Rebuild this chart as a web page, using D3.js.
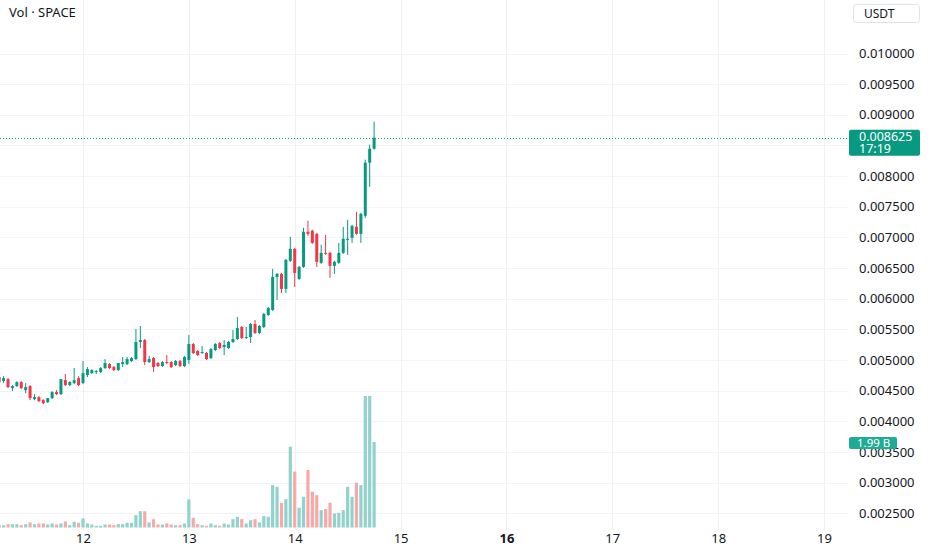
<!DOCTYPE html>
<html lang="en">
<head>
  <meta charset="UTF-8">
  <title>SPACE / USDT</title>
  <script src="https://d3js.org/d3.v7.min.js"></script>
  <style>
    body {margin: 0; padding: 0; background: #fff; font-family: "Noto Sans", sans-serif;}
    #chart svg {display: block;}
    .axis text {font-size: 13px; fill: #131722;}
  </style>
</head>
<body>
  <div id="chart"></div>
  <script>
    // hourly candles, first one at 11th 05:00
    const startHour = 5;
    const open = [
      0.004722, 0.004656, 0.004689, 0.004542, 0.004575, 0.004640, 0.004509, 0.004575, 0.004362, 0.004395,
      0.004346, 0.004313, 0.004379, 0.004477, 0.004444, 0.004673, 0.004591, 0.004624, 0.004705, 0.004624,
      0.004755, 0.004787, 0.004804, 0.004804, 0.004869, 0.004934, 0.004885, 0.004836, 0.004934, 0.004934,
      0.004983, 0.005016, 0.005294, 0.005326, 0.004967, 0.005032, 0.004951, 0.004902, 0.004967, 0.004967,
      0.004918, 0.004983, 0.004902, 0.005000, 0.005261, 0.005147, 0.005114, 0.005114, 0.005032, 0.005163,
      0.005277, 0.005212, 0.005196, 0.005294, 0.005343, 0.005539, 0.005359, 0.005375, 0.005588, 0.005441,
      0.005539, 0.005735, 0.005817, 0.006356, 0.006405, 0.006160, 0.006617, 0.006813, 0.006323, 0.006519,
      0.007091, 0.007108, 0.007058, 0.006585, 0.006748, 0.006748, 0.006536, 0.006585, 0.006748, 0.006960,
      0.006993, 0.007173, 0.007058, 0.007353, 0.008219, 0.008447
    ];
    const high = [
      0.004755, 0.004738, 0.004705, 0.004591, 0.004656, 0.004656, 0.004624, 0.004591, 0.004444, 0.004411,
      0.004362, 0.004379, 0.004493, 0.004509, 0.004689, 0.004771, 0.004656, 0.004869, 0.004738, 0.004983,
      0.004885, 0.004853, 0.004836, 0.004885, 0.005016, 0.004951, 0.004902, 0.004951, 0.005049, 0.005049,
      0.005049, 0.005506, 0.005555, 0.005343, 0.005065, 0.005049, 0.004967, 0.004983, 0.005081, 0.004983,
      0.005000, 0.005000, 0.005065, 0.005408, 0.005277, 0.005163, 0.005228, 0.005130, 0.005196, 0.005277,
      0.005294, 0.005326, 0.005310, 0.005490, 0.005702, 0.005555, 0.005539, 0.005604, 0.005653, 0.005571,
      0.005768, 0.005866, 0.006487, 0.006421, 0.006421, 0.006650, 0.007009, 0.006830, 0.006536, 0.007157,
      0.007271, 0.007124, 0.007075, 0.006879, 0.007042, 0.006764, 0.006617, 0.006911, 0.007173, 0.007287,
      0.007206, 0.007418, 0.007402, 0.008268, 0.008513, 0.008888
    ];
    const low = [
      0.004607, 0.004624, 0.004542, 0.004493, 0.004558, 0.004526, 0.004460, 0.004346, 0.004346, 0.004313,
      0.004281, 0.004297, 0.004362, 0.004428, 0.004428, 0.004575, 0.004575, 0.004607, 0.004575, 0.004607,
      0.004722, 0.004771, 0.004771, 0.004787, 0.004853, 0.004853, 0.004820, 0.004820, 0.004885, 0.004918,
      0.004967, 0.005000, 0.005196, 0.004918, 0.004951, 0.004804, 0.004885, 0.004885, 0.004934, 0.004869,
      0.004902, 0.004885, 0.004885, 0.004934, 0.005098, 0.005065, 0.005098, 0.005000, 0.005016, 0.005147,
      0.005179, 0.005081, 0.005179, 0.005277, 0.005326, 0.005343, 0.005343, 0.005277, 0.005424, 0.005424,
      0.005522, 0.005719, 0.005800, 0.005980, 0.006094, 0.006094, 0.006601, 0.006192, 0.006307, 0.006503,
      0.007026, 0.006895, 0.006519, 0.006568, 0.006715, 0.006340, 0.006405, 0.006568, 0.006732, 0.006715,
      0.006911, 0.007042, 0.006911, 0.007320, 0.007826, 0.008431
    ];
    const close = [
      0.004640, 0.004705, 0.004558, 0.004575, 0.004640, 0.004542, 0.004558, 0.004379, 0.004395, 0.004330,
      0.004297, 0.004379, 0.004477, 0.004444, 0.004689, 0.004591, 0.004640, 0.004673, 0.004591, 0.004787,
      0.004853, 0.004836, 0.004820, 0.004869, 0.004951, 0.004869, 0.004836, 0.004951, 0.004967, 0.005016,
      0.005032, 0.005294, 0.005326, 0.004967, 0.005016, 0.004885, 0.004902, 0.004967, 0.004951, 0.004885,
      0.004983, 0.004902, 0.005049, 0.005261, 0.005114, 0.005081, 0.005130, 0.005016, 0.005179, 0.005261,
      0.005196, 0.005245, 0.005294, 0.005343, 0.005522, 0.005359, 0.005375, 0.005588, 0.005441, 0.005555,
      0.005751, 0.005849, 0.006356, 0.006405, 0.006160, 0.006634, 0.006813, 0.006421, 0.006519, 0.007091,
      0.007058, 0.006911, 0.006601, 0.006748, 0.006732, 0.006536, 0.006601, 0.006748, 0.006977, 0.006977,
      0.007189, 0.007058, 0.007385, 0.008219, 0.008447, 0.008625
    ];
    // volume in billions
    const volume = [
      0.054, 0.054, 0.077, 0.077, 0.077, 0.054, 0.077, 0.117, 0.077, 0.093,
      0.093, 0.070, 0.093, 0.070, 0.093, 0.140, 0.054, 0.133, 0.110, 0.210,
      0.093, 0.070, 0.040, 0.040, 0.070, 0.070, 0.054, 0.077, 0.077, 0.110,
      0.110, 0.287, 0.380, 0.380, 0.117, 0.193, 0.070, 0.070, 0.093, 0.070,
      0.054, 0.054, 0.093, 0.653, 0.226, 0.077, 0.054, 0.040, 0.093, 0.054,
      0.040, 0.093, 0.070, 0.194, 0.249, 0.194, 0.093, 0.171, 0.194, 0.117,
      0.264, 0.249, 0.987, 0.948, 0.575, 0.660, 1.880, 1.300, 0.459, 0.715,
      1.336, 0.832, 0.754, 0.404, 0.427, 0.575, 0.326, 0.342, 0.404, 0.948,
      0.715, 1.042, 0.987, 3.060, 3.060, 1.990
    ];
    const dayTicks = [12, 13, 14, 15, 16, 17, 18, 19];
    const priceTicks = [0.0025, 0.003, 0.0035, 0.004, 0.0045, 0.005, 0.0055, 0.006, 0.0065,
                        0.007, 0.0075, 0.008, 0.0085, 0.009, 0.0095, 0.01];
    const countdown = "17:19";

    const W = 932, H = 550;
    const plotRight = 848;
    const upColor = "#089981", downColor = "#f23645";
    const upVol = "#92d2cc", downVol = "#f7a9a7";
    const gridColor = "#f2f4f9";

    const day = d => new Date(Date.UTC(2025, 5, d));
    const candles = open.map((o, i) => ({
      t: new Date(Date.UTC(2025, 5, 11, startHour + i)),
      o, h: high[i], l: low[i], c: close[i], v: volume[i]
    }));

    const svg = d3.select("#chart").append("svg")
      .attr("width", W).attr("height", H);

    const x = d3.scaleUtc().domain([day(12), day(19)]).range([83, 824]);
    const y = d3.scaleLinear().domain([0.0025, 0.01]).range([513.3, 53.5]);
    const yv = d3.scaleLinear().domain([0, d3.max(volume)]).range([527.5, 396]);

    // grid
    svg.append("g").selectAll("line").data(priceTicks).join("line")
      .attr("x1", 0).attr("x2", plotRight)
      .attr("y1", d => Math.round(y(d)) + 0.5).attr("y2", d => Math.round(y(d)) + 0.5)
      .attr("stroke", gridColor);
    svg.append("g").selectAll("line").data(dayTicks).join("line")
      .attr("x1", d => Math.round(x(day(d))) + 0.5).attr("x2", d => Math.round(x(day(d))) + 0.5)
      .attr("y1", 0).attr("y2", 530)
      .attr("stroke", "#eef0f5");

    // volume
    svg.append("g").selectAll("rect").data(candles).join("rect")
      .attr("x", d => x(d.t) - 1.6)
      .attr("width", 3.2)
      .attr("y", d => yv(d.v))
      .attr("height", d => yv(0) - yv(d.v))
      .attr("fill", d => d.c >= d.o ? upVol : downVol);

    // candles
    const cg = svg.append("g").selectAll("g").data(candles).join("g")
      .attr("fill", d => d.c >= d.o ? upColor : downColor);
    cg.append("rect")
      .attr("x", d => x(d.t) - 0.5).attr("width", 1)
      .attr("y", d => y(d.h)).attr("height", d => y(d.l) - y(d.h));
    cg.append("rect")
      .attr("x", d => x(d.t) - 1.5).attr("width", 3)
      .attr("y", d => y(Math.max(d.o, d.c)))
      .attr("height", d => Math.max(1, Math.abs(y(d.o) - y(d.c))));

    // last price line
    const last = candles[candles.length - 1];
    const yLast = y(last.c);
    svg.append("line")
      .attr("x1", 0).attr("x2", plotRight)
      .attr("y1", Math.round(yLast) + 0.5).attr("y2", Math.round(yLast) + 0.5)
      .attr("stroke", upColor).attr("stroke-width", 1)
      .attr("stroke-dasharray", "1,2");

    // price axis, hide the tick under the last price label
    const shownTicks = priceTicks.filter(p => Math.abs(y(p) - yLast) > 16);
    const yAxisG = svg.append("g").attr("class", "axis")
      .attr("transform", "translate(855,0)")
      .call(d3.axisRight(y).tickValues(shownTicks).tickFormat(d3.format(".6f")).tickSize(0).tickPadding(4));
    yAxisG.select(".domain").remove();
    yAxisG.selectAll("text").style("font-family", "'Noto Sans', sans-serif");

    // time axis
    const xAxisG = svg.append("g").attr("class", "axis")
      .attr("transform", "translate(0,530)")
      .call(d3.axisBottom(x).tickValues(dayTicks.map(day)).tickFormat(d3.utcFormat("%-d")).tickSize(0).tickPadding(4));
    xAxisG.select(".domain").remove();
    xAxisG.selectAll("text")
      .style("font-family", "'Noto Sans', sans-serif")
      .style("font-weight", d => d.getUTCDate() === 16 ? "bold" : "normal");

    // last price label
    svg.append("rect")
      .attr("x", 849).attr("y", yLast - 8).attr("width", 71).attr("height", 26)
      .attr("rx", 2).attr("fill", upColor);
    svg.append("text")
      .attr("x", 859).attr("y", yLast + 3.5)
      .attr("fill", "#fff").attr("font-size", 12.5)
      .text(d3.format(".6f")(last.c));
    svg.append("text")
      .attr("x", 859).attr("y", yLast + 15.5)
      .attr("fill", "#fff").attr("font-size", 12.5)
      .text(countdown);

    // last volume label
    const yvLast = yv(last.v);
    svg.append("rect")
      .attr("x", 849).attr("y", yvLast - 5).attr("width", 48).attr("height", 12)
      .attr("rx", 2).attr("fill", "#22ab94");
    svg.append("text")
      .attr("x", 857).attr("y", yvLast + 5)
      .attr("fill", "#fff").attr("font-size", 11.5)
      .text(d3.format(".2f")(last.v) + " B");

    // currency box
    svg.append("rect")
      .attr("x", 853.5).attr("y", 4.5).attr("width", 66).attr("height", 18)
      .attr("rx", 3).attr("fill", "#fff").attr("stroke", "#e0e3eb");
    svg.append("text")
      .attr("x", 864).attr("y", 18)
      .attr("fill", "#131722").attr("font-size", 12)
      .text("USDT");

    // legend
    svg.append("text")
      .attr("x", 9).attr("y", 17)
      .attr("fill", "#131722").attr("font-size", 13)
      .text("Vol · SPACE");
  </script>
</body>
</html>
